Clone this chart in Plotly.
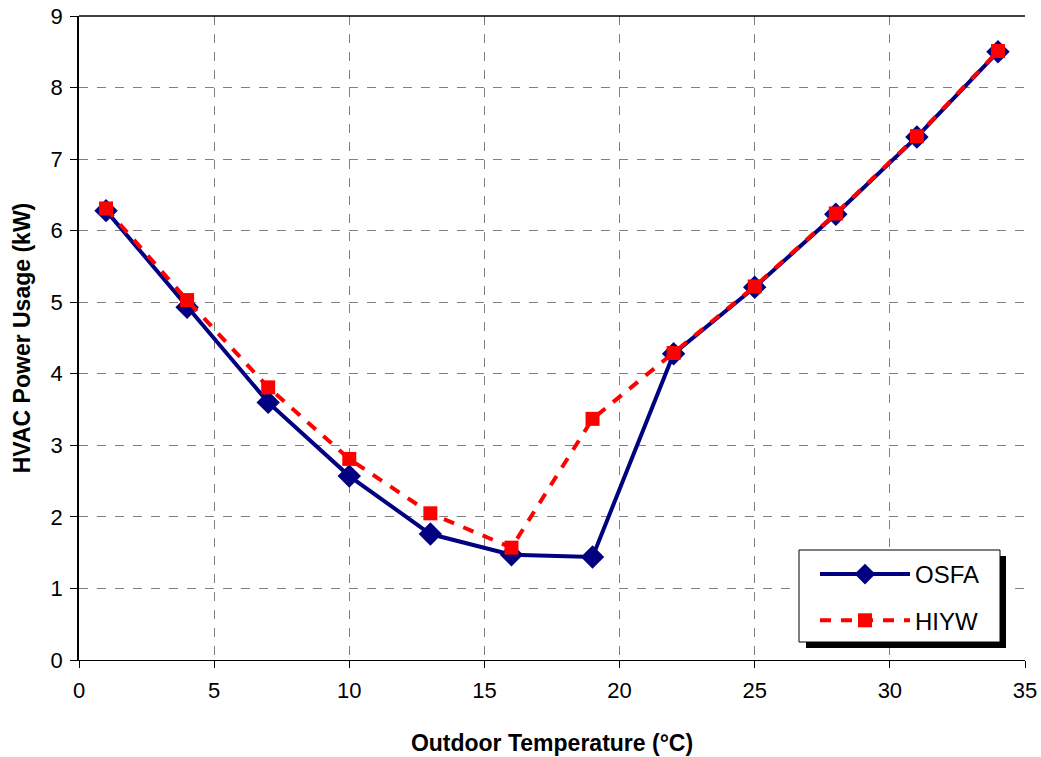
import plotly.graph_objects as go

temps = [1, 4, 7, 10, 13, 16, 19, 22, 25, 28, 31, 34]
osfa = [6.28, 4.93, 3.60, 2.57, 1.76, 1.47, 1.44, 4.28, 5.21, 6.23, 7.31, 8.50]
hiyw = [6.31, 5.03, 3.81, 2.81, 2.05, 1.57, 3.37, 4.29, 5.22, 6.24, 7.32, 8.51]

x_ticks = [0, 5, 10, 15, 20, 25, 30, 35]
y_ticks = [0, 1, 2, 3, 4, 5, 6, 7, 8, 9]

FONT = "Liberation Sans, Arial, sans-serif"

fig = go.Figure()
fig.add_trace(go.Scatter(
    x=temps, y=osfa, name="OSFA", mode="lines+markers", legendgroup="a",
    line=dict(color="#000080", width=4),
    marker=dict(symbol="diamond", size=18, color="#000080"),
))
fig.add_trace(go.Scatter(
    x=temps, y=hiyw, name="HIYW", mode="lines+markers", legendgroup="b",
    line=dict(color="#FF0000", width=4, dash="11px,10px"),
    marker=dict(symbol="square", size=14, color="#FF0000"),
))

W, H = 1041, 757
L, R, T, B = 79, 16, 16, 97
pw, ph = W - L - R, H - T - B

def px(x):
    return (x - L) / pw

def py(y):
    return (H - B - y) / ph

shapes = [
    # top border
    dict(type="line", xref="paper", yref="paper", x0=0, x1=1, y0=1, y1=1,
         line=dict(color="black", width=1.5), layer="above"),
    # legend shadow
    dict(type="rect", xref="paper", yref="paper",
         x0=px(806), x1=px(1006), y0=py(648), y1=py(556),
         fillcolor="black", line=dict(width=0), layer="above"),
    # legend box
    dict(type="rect", xref="paper", yref="paper",
         x0=px(799), x1=px(1000), y0=py(642), y1=py(550),
         fillcolor="white", line=dict(color="black", width=1), layer="above"),
]

fig.update_layout(
    width=W, height=H,
    margin=dict(l=L, r=R, t=T, b=B, autoexpand=False),
    paper_bgcolor="white", plot_bgcolor="white",
    font=dict(family=FONT, color="black", size=22),
    shapes=shapes,
    showlegend=True,
    legend=dict(
        x=px(815), y=py(552), xanchor="left", yanchor="top",
        bgcolor="rgba(0,0,0,0)", borderwidth=0,
        font=dict(size=24, family=FONT),
        itemwidth=90, tracegroupgap=12,
    ),
    xaxis=dict(
        range=[0, 35], tickvals=x_ticks, ticktext=[str(v) for v in x_ticks],
        showgrid=True, gridcolor="#808080", griddash="dash", gridwidth=1,
        showline=True, linecolor="black", linewidth=1,
        ticks="outside", ticklen=7, tickcolor="black", ticklabelstandoff=4,
        zeroline=False, automargin=False,
        title=dict(text="<b>Outdoor Temperature (°C)</b>", font=dict(size=23), standoff=32),
    ),
    yaxis=dict(
        range=[0, 9], tickvals=y_ticks, ticktext=[str(v) for v in y_ticks],
        showgrid=True, gridcolor="#808080", griddash="dash", gridwidth=1,
        showline=True, linecolor="black", linewidth=1.5,
        ticks="outside", ticklen=7, tickcolor="black", ticklabelstandoff=3,
        zeroline=False, automargin=False,
        title=dict(text="<b>HVAC Power Usage (kW)</b>", font=dict(size=23), standoff=14),
    ),
)

fig.write_html("out.html")
